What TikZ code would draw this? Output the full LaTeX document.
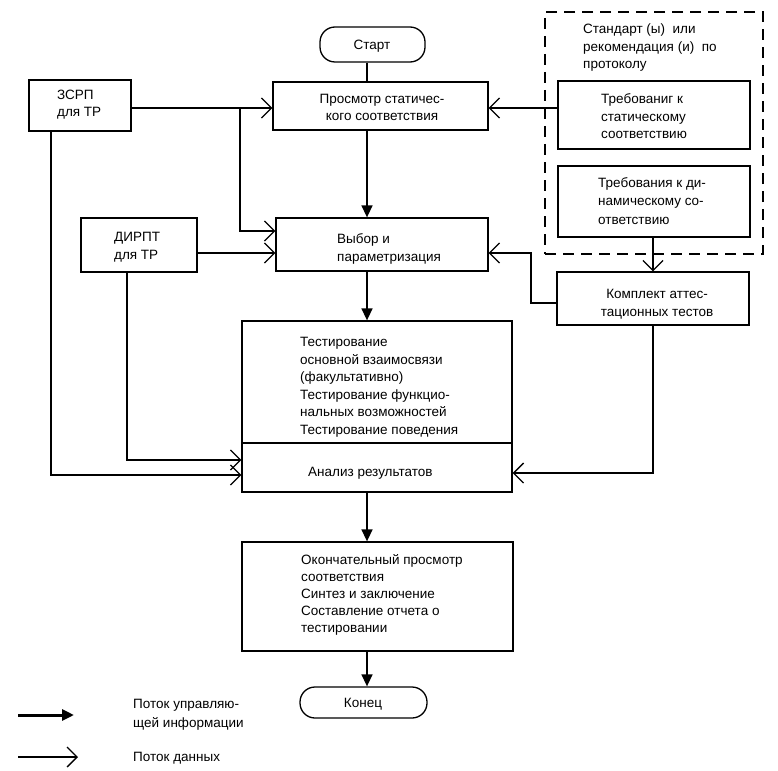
\documentclass[tikz,border=0pt]{standalone}
\usepackage{fontspec}
\setmainfont{Liberation Sans}
\usetikzlibrary{arrows.meta,calc}
\newcommand\diagfont{\fontsize{13.5}{17.5}\selectfont}
\begin{document}
\begin{tikzpicture}[x=1pt,y=-1pt,
  box/.style={draw, line width=1.3pt, inner sep=0pt},
  term/.style={box, rounded corners=15pt},
  dbox/.style={draw, line width=1.6pt, inner sep=0pt, dash pattern=on 11pt off 7pt},
  txtl/.style={inner sep=0pt, align=left, font=\diagfont, anchor=base west},
  txtc/.style={inner sep=0pt, align=center, font=\diagfont, anchor=base},
  ctrl/.style={line width=1.5pt, -{Triangle[length=12pt,width=11pt]}},
  plainl/.style={line width=1.5pt},
  data/.style={line width=1.3pt, line join=miter, -{Straight Barb[length=10pt,width=20pt,line width=1.3pt]}},
]
\useasboundingbox (0,0) rectangle (778,770);

% boxes
\node[term, minimum width=105pt, minimum height=35pt] (start) at (372.5,44.5) {};
\node[box, minimum width=215pt, minimum height=48pt] (pros) at (380.5,106) {};
\node[box, minimum width=212pt, minimum height=53pt] (vyb) at (382,244.5) {};
\node[box, minimum width=270pt, minimum height=122pt] (tst) at (377,382) {};
\node[box, minimum width=270pt, minimum height=49pt] (ana) at (377,467.5) {};
\node[box, minimum width=271pt, minimum height=109pt] (fin) at (377.5,596.5) {};
\node[term, minimum width=127pt, minimum height=31pt] (end) at (363.5,702.5) {};
\node[box, minimum width=102pt, minimum height=51pt] (zsrp) at (80,105.5) {};
\node[box, minimum width=116pt, minimum height=54pt] (dirpt) at (139,245) {};
\node[dbox, minimum width=218pt, minimum height=242pt] (std) at (654,133) {};
\node[box, minimum width=192pt, minimum height=68pt] (stat) at (654,115) {};
\node[box, minimum width=192pt, minimum height=71pt] (dyn) at (654,201.5) {};
\node[box, minimum width=192pt, minimum height=53pt] (kompl) at (653,298.5) {};

% texts (anchor = baseline of the last line)
\node[txtc] (tstart) at (372,50) {Старт};
\node[txtc] (tpros) at (382,121) {Просмотр статичес-\\кого соответствия};
\node[txtl] (tvyb) at (337,261) {Выбор и\\[0.5pt]параметризация};
\node[txtl] (ttst) at (300,434) {Тестирование\\основной взаимосвязи\\ (факультативно)\\Тестирование функцио-\\нальных возможностей\\Тестирование поведения};
\node[txtl] (tana) at (308,476) {Анализ результатов};
\node[txtl, font=\fontsize{13.5}{17}\selectfont] (tfin) at (301,632) {Окончательный просмотр\\соответствия\\Синтез и заключение\\Составление отчета о\\тестировании};
\node[txtc] (tend) at (363,707) {Конец};
\node[txtl] (tzsrp) at (57,117) {ЗСРП\\для ТР};
\node[txtl] (tdirpt) at (114,259) {ДИРПТ\\для ТР};
\node[txtl] (tstd) at (583,69) {Стандарт (ы) \ или\\рекомендация (и) \ по\\протоколу};
\node[txtl] (tstat) at (601,139) {Требованиг к\\статическому\\соответствию};
\node[txtl] (tdyn) at (598,224) {Требования к ди-\\[1pt]намическому со-\\[1pt]ответствию};
\node[txtc] (tkompl) at (657,316) {Комплект аттес-\\тационных тестов};
\node[txtl] (tleg1) at (133,727) {Поток управляю-\\[1pt]щей информации};
\node[txtl] (tleg2) at (133,761) {Поток данных};

% helper coordinates
\coordinate (cx) at (367,0);
\coordinate (yA) at (0,108);
\coordinate (yB) at (0,231);
\coordinate (yC) at (0,253);
\coordinate (yD) at (0,460);
\coordinate (yE) at (0,475);
\coordinate (yF) at (0,473);
\coordinate (yK) at (0,303);
\coordinate (xB) at (240,0);
\coordinate (xZ) at (51,0);
\coordinate (xD) at (127,0);
\coordinate (xK) at (531,0);
\coordinate (xR) at (653,0);

% control flow
\draw[plainl] (start.south -| cx) -- (pros.north -| cx);
\draw[ctrl] (pros.south -| cx) -- (vyb.north -| cx);
\draw[ctrl] (vyb.south -| cx) -- (tst.north -| cx);
\draw[ctrl] (ana.south -| cx) -- (fin.north -| cx);
\draw[ctrl] (fin.south -| cx) -- (end.north -| cx);

% data flow
\draw[data] (zsrp.east |- yA) -- (pros.west |- yA);
\draw[data] (xB |- yA) -- (xB |- yB) -- (vyb.west |- yB);
\draw[data] (dirpt.east |- yC) -- (vyb.west |- yC);
\draw[data] (zsrp.south -| xZ) -- (xZ |- yE) -- (ana.west |- yE);
\draw[data] (dirpt.south -| xD) -- (xD |- yD) -- (ana.west |- yD);
\draw[data] (stat.west |- yA) -- (pros.east |- yA);
\draw[data] (dyn.south -| xR) -- (kompl.north -| xR);
\draw[data] (kompl.west |- yK) -- (xK |- yK) -- (xK |- yC) -- (vyb.east |- yC);
\draw[data] (kompl.south -| xR) -- (xR |- yF) -- (ana.east |- yF);

% legend
\coordinate (l1a) at (18,715);
\coordinate (l1b) at (74,715);
\coordinate (l2a) at (18,757);
\coordinate (l2b) at (78,757);
\draw[line width=3pt, -{Triangle[length=12pt,width=11pt]}] (l1a) -- (l1b);
\draw[data] (l2a) -- (l2b);
\end{tikzpicture}
\end{document}
